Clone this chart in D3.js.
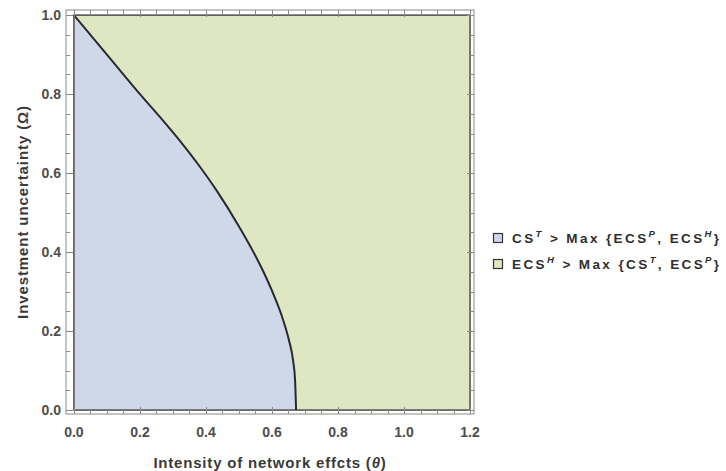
<!DOCTYPE html>
<html>
<head>
<meta charset="utf-8">
<script src="https://cdn.jsdelivr.net/npm/d3@7"></script>
<style>
  html, body { margin: 0; padding: 0; background: #fff; }
  svg { display: block; }
  text { font-family: "Liberation Sans", Arial, sans-serif; }
</style>
</head>
<body>
<svg id="chart" width="726" height="471"></svg>
<script>
// Boundary between the two regions: θ (network effects) vs Ω (investment uncertainty)
const boundaryTheta = [0.000, 0.100, 0.200, 0.270, 0.320, 0.380, 0.433, 0.500, 0.542, 0.573, 0.605, 0.633, 0.652, 0.664, 0.670, 0.673];
const boundaryOmega = [1.000, 0.900, 0.800, 0.733, 0.683, 0.618, 0.555, 0.465, 0.403, 0.352, 0.292, 0.230, 0.175, 0.125, 0.075, 0.000];

const thetaRange = [0, 1.2];
const omegaRange = [0, 1];

const xTickValues = [0.0, 0.2, 0.4, 0.6, 0.8, 1.0, 1.2];
const yTickValues = [0.0, 0.2, 0.4, 0.6, 0.8, 1.0];
const minorStep = 0.05;

const legendLabels = [
  [["CS", false], ["T", true], [" > Max {ECS", false], ["P", true], [", ECS", false], ["H", true], ["}", false]],
  [["ECS", false], ["H", true], [" > Max {CS", false], ["T", true], [", ECS", false], ["P", true], ["}", false]]
];
const regionColors = ["#cfd8e9", "#dfe6c2"];

const svg = d3.select("#chart");

const x = d3.scaleLinear().domain([-0.024, 1.212]).range([66, 474]);
const y = d3.scaleLinear().domain([-0.010, 1.013]).range([414, 10]);

const boundary = boundaryTheta.map((t, i) => [t, boundaryOmega[i]]);
const curveLine = d3.line().x(d => x(d[0])).y(d => y(d[1])).curve(d3.curveMonotoneX);

// green region: the whole box
svg.append("rect")
  .attr("x", x(thetaRange[0])).attr("y", y(omegaRange[1]))
  .attr("width", x(thetaRange[1]) - x(thetaRange[0]))
  .attr("height", y(omegaRange[0]) - y(omegaRange[1]))
  .attr("fill", regionColors[1]);

// blue region: left of the boundary curve
svg.append("path")
  .attr("d", curveLine(boundary) + `L${x(0)},${y(0)}Z`)
  .attr("fill", regionColors[0]);

// outer edges of the plotted region
svg.append("rect")
  .attr("x", x(thetaRange[0])).attr("y", y(omegaRange[1]))
  .attr("width", x(thetaRange[1]) - x(thetaRange[0]))
  .attr("height", y(omegaRange[0]) - y(omegaRange[1]))
  .attr("fill", "none").attr("stroke", "#555").attr("stroke-width", 1.6);

// boundary curve
svg.append("path")
  .attr("d", curveLine(boundary))
  .attr("fill", "none").attr("stroke", "#2a2a2a").attr("stroke-width", 2);

// frame
const fx0 = x.range()[0], fx1 = x.range()[1], fy0 = y.range()[1], fy1 = y.range()[0];
svg.append("rect")
  .attr("x", fx0).attr("y", fy0).attr("width", fx1 - fx0).attr("height", fy1 - fy0)
  .attr("fill", "none").attr("stroke", "#8a8a8a").attr("stroke-width", 1);

const minorX = d3.range(0, 1.2001, minorStep).filter(v => !xTickValues.some(t => Math.abs(t - v) < 1e-6));
const minorY = d3.range(0, 1.0001, minorStep).filter(v => !yTickValues.some(t => Math.abs(t - v) < 1e-6));

const ticks = svg.append("g").attr("stroke", "#8a8a8a").attr("stroke-width", 1);
function vTicks(vals, len) {
  vals.forEach(v => {
    const px = Math.round(x(v)) + 0.5;
    ticks.append("line").attr("x1", px).attr("x2", px).attr("y1", fy1).attr("y2", fy1 - len);
    ticks.append("line").attr("x1", px).attr("x2", px).attr("y1", fy0).attr("y2", fy0 + len);
  });
}
function hTicks(vals, len) {
  vals.forEach(v => {
    const py = Math.round(y(v)) + 0.5;
    ticks.append("line").attr("x1", fx0).attr("x2", fx0 + len).attr("y1", py).attr("y2", py);
    ticks.append("line").attr("x1", fx1).attr("x2", fx1 - len).attr("y1", py).attr("y2", py);
  });
}
vTicks(xTickValues, 7); vTicks(minorX, 4);
hTicks(yTickValues, 7); hTicks(minorY, 4);

// tick labels
svg.append("g").selectAll("text").data(xTickValues).join("text")
  .attr("x", d => x(d)).attr("y", fy1 + 23)
  .attr("text-anchor", "middle")
  .attr("font-size", 14).attr("font-weight", "bold").attr("fill", "#4d4d4d")
  .text(d => d3.format(".1f")(d));
svg.append("g").selectAll("text").data(yTickValues).join("text")
  .attr("x", fx0 - 5).attr("y", d => y(d) + 5)
  .attr("text-anchor", "end")
  .attr("font-size", 14).attr("font-weight", "bold").attr("fill", "#4d4d4d")
  .text(d => d3.format(".1f")(d));

// axis titles
const titleFont = "'Open Sans', 'DejaVu Sans', sans-serif";
const xt = svg.append("text")
  .attr("x", 270).attr("y", 468).attr("text-anchor", "middle")
  .attr("font-family", titleFont).attr("letter-spacing", 0.8)
  .attr("font-size", 15).attr("font-weight", 600).attr("fill", "#3a3a3a");
xt.append("tspan").text("Intensity of network effcts (");
xt.append("tspan").attr("font-style", "italic").text("θ");
xt.append("tspan").text(")");

svg.append("text")
  .attr("transform", "translate(28,212) rotate(-90)")
  .attr("text-anchor", "middle")
  .attr("font-family", titleFont).attr("letter-spacing", 0.9)
  .attr("font-size", 15).attr("font-weight", 600).attr("fill", "#3a3a3a")
  .text("Investment uncertainty (Ω)");

// legend
const legend = svg.append("g");
legendLabels.forEach((parts, i) => {
  const cy = 238 + i * 26;
  legend.append("rect")
    .attr("x", 493.5).attr("y", cy - 4.5).attr("width", 9).attr("height", 9)
    .attr("fill", regionColors[i]).attr("stroke", "#333").attr("stroke-width", 1.2);
  const t = legend.append("text")
    .attr("x", 512).attr("y", cy + 5)
    .attr("font-size", 13.5).attr("font-weight", "bold").attr("fill", "#2e2e2e")
    .attr("letter-spacing", 2.4);
  parts.forEach(([s, sup], k) => {
    const sp = t.append("tspan").text(s);
    if (sup) sp.attr("font-style", "italic").attr("font-size", 9.5).attr("dy", -6);
    else if (k > 0) sp.attr("dy", 6);
  });
});
</script>
</body>
</html>
